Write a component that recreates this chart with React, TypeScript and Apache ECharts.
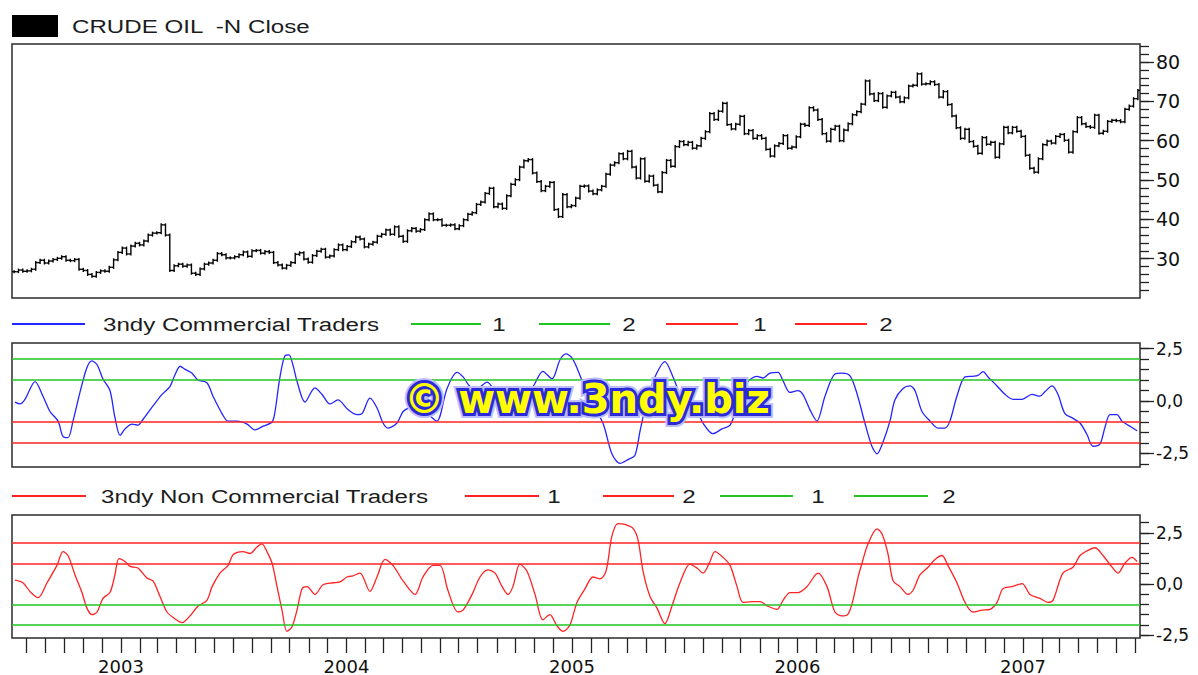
import React, { useEffect, useRef } from 'react';
import * as echarts from 'echarts';

// ---- Crude oil weekly closes (Fridays, from 2002-07-12) ----
const oil2002 = [26.7, 27.1, 26.8, 26.9, 27.3, 29.0, 29.6, 28.9, 29.4, 29.8, 30.1, 30.5, 29.6, 29.5, 29.8, 27.3, 27.0, 26.0, 25.5, 26.5, 26.9, 26.8, 27.8, 29.7, 31.6];
const oil2003 = [32.7, 31.2, 33.2, 33.9, 33.5, 34.5, 36.0, 36.5, 36.6, 38.6, 36.0, 27.0, 28.2, 28.6, 28.1, 28.4, 26.3, 26.0, 27.4, 28.6, 28.9, 29.6, 31.3, 31.0, 30.2, 30.2, 30.5, 31.0, 31.7, 30.6, 32.0, 32.1, 31.4, 31.8, 31.6, 29.0, 28.4, 27.6, 28.3, 29.0, 31.1, 31.5, 29.9, 29.1, 30.8, 31.9, 32.4, 30.4, 30.7, 32.3, 33.5, 32.3];
const oil2004 = [33.1, 34.3, 35.5, 35.0, 33.0, 33.7, 34.2, 35.7, 36.2, 37.3, 36.2, 38.1, 35.7, 34.4, 37.1, 37.7, 37.0, 37.4, 39.9, 41.4, 39.9, 39.9, 38.5, 38.5, 38.6, 37.6, 38.4, 39.9, 41.3, 41.7, 43.8, 44.4, 46.6, 47.9, 43.2, 43.9, 42.8, 46.0, 48.9, 50.1, 53.3, 54.9, 55.2, 51.8, 49.6, 47.3, 48.4, 49.4, 42.5, 40.7, 46.3, 43.2, 43.5];
const oil2005 = [45.4, 48.4, 48.5, 47.2, 46.5, 47.5, 48.4, 51.5, 53.8, 54.4, 56.7, 55.4, 57.3, 53.3, 50.5, 55.4, 49.7, 51.0, 48.7, 47.0, 51.9, 55.0, 53.5, 58.5, 59.8, 59.0, 59.6, 58.1, 58.7, 60.6, 62.3, 66.9, 65.4, 67.5, 69.5, 64.1, 63.0, 64.2, 66.2, 61.8, 62.6, 60.6, 61.3, 60.6, 57.8, 56.1, 58.7, 59.3, 61.3, 58.1, 58.4, 61.0];
const oil2006 = [64.2, 63.9, 68.4, 67.8, 65.4, 61.8, 59.9, 62.9, 63.7, 60.0, 62.7, 64.3, 66.6, 67.4, 69.3, 75.2, 71.9, 70.2, 72.0, 68.5, 71.4, 72.3, 71.1, 69.9, 70.9, 73.9, 74.1, 77.0, 74.4, 74.5, 75.0, 74.3, 71.1, 72.5, 69.2, 66.3, 63.3, 60.6, 62.9, 59.8, 58.6, 56.8, 60.8, 59.1, 59.6, 55.8, 59.2, 63.4, 62.0, 63.4, 62.4, 61.1];
const oil2007 = [56.3, 53.0, 52.0, 55.4, 59.0, 59.9, 59.4, 61.1, 61.6, 60.1, 57.1, 62.3, 65.9, 64.3, 63.6, 63.4, 66.5, 61.9, 62.4, 64.9, 65.2, 65.1, 64.8, 68.0, 68.8, 70.7, 72.8];
const oilClose = [...oil2002, ...oil2003, ...oil2004, ...oil2005, ...oil2006, ...oil2007];

// ---- 3ndy Commercial Traders index [decimal year, value] ----
const commercial: [number, number][] = [
  [2002.530, -0.05], [2002.552, -0.14], [2002.574, 0.08], [2002.619, 0.93], [2002.654, 0.23], [2002.685, -0.5], [2002.721, -0.96], [2002.743, -1.7], [2002.765, -1.75], [2002.787, -0.96],
  [2002.818, 0.41], [2002.849, 1.6], [2002.871, 1.92], [2002.894, 1.73], [2002.920, 1.05], [2002.951, 0.5], [2002.973, -0.78], [2002.996, -1.64], [2003.018, -1.33], [2003.049, -1.1],
  [2003.075, -1.15], [2003.098, -0.87], [2003.142, -0.23], [2003.182, 0.32], [2003.217, 0.69], [2003.239, 1.24], [2003.262, 1.66], [2003.284, 1.51], [2003.315, 1.33], [2003.341, 1.0],
  [2003.381, 0.87], [2003.408, 0.23], [2003.448, -0.6], [2003.475, -0.96], [2003.514, -0.96], [2003.559, -1.1], [2003.594, -1.38], [2003.630, -1.2], [2003.670, -1.0], [2003.683, -0.5],
  [2003.705, 1.15], [2003.727, 2.16], [2003.745, 2.2], [2003.763, 1.7], [2003.780, 0.96], [2003.816, -0.05], [2003.860, 0.63], [2003.891, 0.32], [2003.927, -0.14], [2003.962, 0.05],
  [2004.007, -0.41], [2004.047, -0.65], [2004.069, -0.6], [2004.104, 0.14], [2004.135, -0.32], [2004.162, -1.05], [2004.184, -1.29], [2004.224, -1.05], [2004.251, -0.5], [2004.282, -0.3],
  [2004.326, -0.2], [2004.370, -0.7], [2004.401, -0.96], [2004.446, 0.6], [2004.490, 1.37], [2004.517, 1.15], [2004.548, 0.69], [2004.579, 0.6], [2004.623, 0.9], [2004.667, 0.3],
  [2004.712, -0.3], [2004.756, 0.0], [2004.800, 0.5], [2004.827, 0.69], [2004.871, 1.42], [2004.911, 1.06], [2004.947, 1.97], [2004.973, 2.25], [2005.000, 2.06], [2005.027, 1.45],
  [2005.080, 0.05], [2005.137, -1.05], [2005.177, -2.52], [2005.213, -2.98], [2005.248, -2.8], [2005.279, -2.6], [2005.302, -1.42], [2005.333, 0.05], [2005.368, 1.15], [2005.412, 1.88],
  [2005.448, 1.15], [2005.492, 0.05], [2005.554, -0.5], [2005.581, -1.05], [2005.625, -1.56], [2005.665, -1.33], [2005.701, -1.15], [2005.732, -0.32], [2005.776, 0.87], [2005.820, 1.18],
  [2005.847, 1.1], [2005.878, 1.33], [2005.914, 1.37], [2005.936, 0.96], [2005.967, 0.41], [2006.002, 0.5], [2006.024, 0.32], [2006.055, -0.41], [2006.086, -0.96], [2006.122, 0.23],
  [2006.166, 1.29], [2006.197, 1.33], [2006.233, 1.2], [2006.264, 0.35], [2006.299, -1.05], [2006.330, -2.16], [2006.353, -2.52], [2006.379, -1.97], [2006.410, -0.96], [2006.432, 0.05],
  [2006.468, 0.6], [2006.499, 0.72], [2006.521, 0.5], [2006.552, -0.5], [2006.588, -0.96], [2006.623, -1.29], [2006.654, -1.29], [2006.676, -0.96], [2006.707, 0.23], [2006.743, 1.15],
  [2006.778, 1.18], [2006.800, 1.22], [2006.823, 1.4], [2006.845, 1.15], [2006.885, 0.72], [2006.920, 0.32], [2006.956, 0.08], [2006.996, 0.08], [2007.040, 0.32], [2007.075, 0.23],
  [2007.098, 0.45], [2007.129, 0.72], [2007.155, 0.32], [2007.186, -0.6], [2007.222, -0.83], [2007.253, -1.05], [2007.284, -1.6], [2007.310, -2.16], [2007.341, -2.06], [2007.364, -1.24],
  [2007.386, -0.65], [2007.417, -0.65], [2007.439, -0.96], [2007.466, -1.15], [2007.506, -1.42],
];

// ---- 3ndy Non Commercial Traders index [decimal year, value] ----
const nonCommercial: [number, number][] = [
  [2002.530, 0.19], [2002.565, 0.06], [2002.596, -0.36], [2002.632, -0.67], [2002.672, 0.06], [2002.716, 0.91], [2002.743, 1.58], [2002.765, 1.39], [2002.796, 0.44], [2002.827, -0.42],
  [2002.849, -1.18], [2002.871, -1.5], [2002.894, -1.37], [2002.920, -0.7], [2002.951, -0.42], [2002.973, 0.44], [2002.991, 1.24], [2003.018, 1.1], [2003.040, 0.86], [2003.075, 0.78],
  [2003.115, 0.29], [2003.142, 0.15], [2003.173, -0.61], [2003.204, -1.37], [2003.239, -1.7], [2003.271, -1.89], [2003.306, -1.56], [2003.341, -1.09], [2003.381, -0.8], [2003.404, -0.13],
  [2003.439, 0.53], [2003.475, 0.91], [2003.497, 1.43], [2003.541, 1.58], [2003.572, 1.49], [2003.603, 1.81], [2003.625, 1.96], [2003.647, 1.58], [2003.670, 1.01], [2003.692, -0.13],
  [2003.714, -1.28], [2003.736, -2.32], [2003.758, -2.1], [2003.780, -1.3], [2003.803, -0.23], [2003.825, -0.13], [2003.860, -0.51], [2003.896, -0.04], [2003.940, 0.06], [2003.971, 0.1],
  [2004.002, 0.34], [2004.029, 0.4], [2004.060, 0.53], [2004.104, -0.36], [2004.135, 0.34], [2004.171, 1.2], [2004.206, 0.91], [2004.251, 0.15], [2004.304, -0.51], [2004.339, 0.34],
  [2004.384, 0.91], [2004.415, 0.91], [2004.450, -0.32], [2004.494, -1.37], [2004.517, -1.28], [2004.557, -0.51], [2004.592, 0.34], [2004.627, 0.69], [2004.659, 0.53], [2004.690, -0.13],
  [2004.716, -0.51], [2004.738, -0.13], [2004.769, 0.97], [2004.800, 0.63], [2004.836, -0.51], [2004.871, -1.75], [2004.902, -1.5], [2004.933, -2.04], [2004.960, -2.32], [2004.991, -2.0],
  [2005.022, -0.9], [2005.058, -0.23], [2005.093, 0.34], [2005.124, 0.25], [2005.151, 0.63], [2005.177, 2.34], [2005.204, 2.95], [2005.235, 2.91], [2005.271, 2.72], [2005.293, 2.15],
  [2005.315, 0.63], [2005.346, -0.61], [2005.377, -1.18], [2005.412, -1.94], [2005.443, -1.09], [2005.479, 0.06], [2005.523, 0.97], [2005.554, 0.78], [2005.581, 0.53], [2005.612, 1.1],
  [2005.634, 1.58], [2005.670, 1.3], [2005.701, 0.91], [2005.732, -0.13], [2005.758, -0.9], [2005.798, -0.86], [2005.834, -0.86], [2005.869, -1.09], [2005.909, -1.24], [2005.936, -0.8],
  [2005.967, -0.42], [2006.002, -0.42], [2006.042, -0.13], [2006.091, 0.53], [2006.131, -0.13], [2006.166, -1.37], [2006.197, -1.56], [2006.224, -1.47], [2006.246, -0.8], [2006.268, 0.3],
  [2006.286, 1.01], [2006.313, 1.96], [2006.353, 2.69], [2006.375, 2.44], [2006.401, 1.49], [2006.424, 0.15], [2006.455, -0.13], [2006.490, -0.51], [2006.512, -0.32], [2006.543, 0.44],
  [2006.579, 0.82], [2006.610, 1.2], [2006.641, 1.39], [2006.667, 0.91], [2006.707, 0.06], [2006.743, -0.9], [2006.778, -1.37], [2006.818, -1.28], [2006.854, -1.24], [2006.885, -0.9],
  [2006.911, -0.23], [2006.951, -0.13], [2006.996, 0.02], [2007.031, -0.51], [2007.075, -0.7], [2007.111, -0.9], [2007.133, -0.8], [2007.177, 0.53], [2007.222, 0.82], [2007.253, 1.39],
  [2007.284, 1.62], [2007.319, 1.77], [2007.355, 1.39], [2007.395, 0.82], [2007.421, 0.53], [2007.452, 1.01], [2007.483, 1.3], [2007.506, 1.1],
];

// ---- levels and tick labels ----
const comGreenLevels = [1, 2];
const comRedLevels = [-1, -2];
const nonRedLevels = [1, 2];
const nonGreenLevels = [-1, -2];
const priceLabels = [30, 40, 50, 60, 70, 80];
const priceMinorTicks = [22, 24, 26, 28, 30, 32, 34, 36, 38, 40, 42, 44, 46, 48, 50, 52, 54, 56, 58, 60, 62, 64, 66, 68, 70, 72, 74, 76, 78, 80, 82, 84];
const oscLabels = [-2.5, 0, 2.5];
const midMinorTicks = [-3, -2.5, -2, -1.5, -1, -0.5, 0, 0.5, 1, 1.5, 2, 2.5];
const lowMinorTicks = [-2.5, -2, -1.5, -1, -0.5, 0, 0.5, 1, 1.5, 2, 2.5, 3];
const yearLabels = [2003, 2004, 2005, 2006, 2007];

const X_MIN = 2002.5166;
const X_MAX = 2007.519;

const GREEN = '#22c422';
const RED = '#ff2323';
const BLUE = '#2424ff';

function decYear(t: number): number {
  const y = new Date(t).getUTCFullYear();
  const a = Date.UTC(y, 0, 1);
  const b = Date.UTC(y + 1, 0, 1);
  return y + (t - a) / (b - a);
}

const weekYears = oilClose.map((_, i) => decYear(Date.UTC(2002, 6, 12) + i * 7 * 86400000));
const oilBars = oilClose.map((c, i) => [weekYears[i], i > 0 ? oilClose[i - 1] : c, c]);

const monthTicks: number[] = [];
for (let y = 2002; y <= 2007; y++) {
  for (let m = 0; m < 12; m++) {
    const v = decYear(Date.UTC(y, m, 1));
    if (v > X_MIN && v < X_MAX) monthTicks.push(v);
  }
}

const fmtOsc = (v: number) => v.toFixed(1).replace('.', ',');

function legendText(x: number, y: number, text: string, align: string = 'left') {
  return {
    type: 'text', x, y, scaleX: 1.27, z: 50,
    style: { x: 0, y: 0, text, fill: '#1c1c1c', fontSize: 19, fontFamily: '"Liberation Sans", Arial, sans-serif', align, verticalAlign: 'middle' },
  };
}
function legendLine(x1: number, x2: number, y: number, color: string) {
  return { type: 'line', z: 50, shape: { x1, y1: y, x2, y2: y }, style: { stroke: color, lineWidth: 2 } };
}

export default function App() {
  const ref = useRef<HTMLDivElement>(null);

  useEffect(() => {
    if (!ref.current) return;
    const chart = echarts.init(ref.current, undefined, { renderer: 'svg' });

    const gridBase = { left: 12, width: 1128, show: true, borderColor: '#2b2b2b', borderWidth: 1.5, backgroundColor: '#fff', containLabel: false };
    const xBase = { type: 'value', min: X_MIN, max: X_MAX, splitLine: { show: false }, axisLine: { show: false, onZero: false }, axisTick: { show: false }, axisLabel: { show: false } };
    const yMajor = (gi: number, min: number, max: number, labels: number[], fs: number, fmt?: (v: number) => string) => ({
      type: 'value', gridIndex: gi, position: 'right', min, max,
      splitLine: { show: false }, axisLine: { show: false, onZero: false },
      axisTick: { show: true, customValues: labels, length: 14, lineStyle: { color: '#222', width: 1.3 } },
      axisLabel: { show: true, customValues: labels, margin: 16, fontSize: fs, fontFamily: '"DejaVu Sans", sans-serif', color: '#111', formatter: fmt },
    });
    const yMinor = (gi: number, min: number, max: number, ticks: number[]) => ({
      type: 'value', gridIndex: gi, position: 'right', min, max,
      splitLine: { show: false }, axisLine: { show: false, onZero: false },
      axisTick: { show: true, customValues: ticks, length: 9, lineStyle: { color: '#222', width: 1.3 } },
      axisLabel: { show: false },
    });

    const mk = (vals: number[], color: string) => vals.map((v) => ({ yAxis: v, lineStyle: { color, width: 1.6, type: 'solid' } }));

    const wmStyle = { text: '\u00a9 www.3ndy.biz', fontSize: 40, fontWeight: 'bold', fontFamily: '"DejaVu Sans", sans-serif', align: 'center', verticalAlign: 'middle', x: 0, y: 0 };

    const option: any = {
      animation: false,
      backgroundColor: '#fff',
      grid: [
        { ...gridBase, top: 44, height: 254 },
        { ...gridBase, top: 343, height: 124 },
        { ...gridBase, top: 515, height: 125 },
      ],
      xAxis: [
        { ...xBase, gridIndex: 0 },
        { ...xBase, gridIndex: 1 },
        {
          ...xBase, gridIndex: 2, position: 'bottom',
          axisTick: { show: true, customValues: monthTicks, length: 15, lineStyle: { color: '#222', width: 1.3 } },
          axisLabel: { show: true, customValues: yearLabels, margin: 19, fontSize: 18, fontFamily: '"DejaVu Sans", sans-serif', color: '#111', formatter: (v: number) => String(Math.round(v)) },
        },
      ],
      yAxis: [
        yMajor(0, 20, 84.6, priceLabels, 19),
        yMinor(0, 20, 84.6, priceMinorTicks),
        yMajor(1, -3.15, 2.77, oscLabels, 17, fmtOsc),
        yMinor(1, -3.15, 2.77, midMinorTicks),
        yMajor(2, -2.64, 3.37, oscLabels, 17, fmtOsc),
        yMinor(2, -2.64, 3.37, lowMinorTicks),
      ],
      series: [
        {
          type: 'custom', name: 'CRUDE OIL -N Close', xAxisIndex: 0, yAxisIndex: 0, clip: true,
          data: oilBars,
          renderItem: (params: any, api: any) => {
            const x = api.value(0);
            const o = api.value(1);
            const c = api.value(2);
            const po = api.coord([x, o]);
            const pc = api.coord([x, c]);
            const top = Math.min(po[1], pc[1]) - 1.5;
            const bot = Math.max(po[1], pc[1]) + 1.5;
            const st = { stroke: '#000', lineWidth: 1.4 };
            return {
              type: 'group',
              children: [
                { type: 'line', shape: { x1: po[0], y1: top, x2: po[0], y2: bot }, style: st },
                { type: 'line', shape: { x1: po[0] - 2.2, y1: po[1], x2: po[0], y2: po[1] }, style: st },
                { type: 'line', shape: { x1: pc[0], y1: pc[1], x2: pc[0] + 2.2, y2: pc[1] }, style: st },
              ],
            };
          },
        },
        {
          type: 'line', name: '3ndy Commercial Traders', xAxisIndex: 1, yAxisIndex: 2,
          data: commercial, smooth: 0.3, symbol: 'none', clip: true,
          lineStyle: { color: BLUE, width: 1.3 }, z: 3,
          markLine: { silent: true, symbol: ['none', 'none'], label: { show: false }, animation: false, data: [...mk(comGreenLevels, GREEN), ...mk(comRedLevels, RED)] },
        },
        {
          type: 'line', name: '3ndy Non Commercial Traders', xAxisIndex: 2, yAxisIndex: 4,
          data: nonCommercial, smooth: 0.3, symbol: 'none', clip: true,
          lineStyle: { color: RED, width: 1.3 }, z: 3,
          markLine: { silent: true, symbol: ['none', 'none'], label: { show: false }, animation: false, data: [...mk(nonRedLevels, RED), ...mk(nonGreenLevels, GREEN)] },
        },
      ],
      graphic: [
        { type: 'rect', z: 50, shape: { x: 12, y: 15, width: 46, height: 22 }, style: { fill: '#000' } },
        legendText(72, 26, 'CRUDE OIL  -N Close'),

        legendLine(12, 85, 324, BLUE),
        legendText(103, 324, '3ndy Commercial Traders'),
        legendLine(411, 481, 324, GREEN),
        legendText(499, 324, '1', 'center'),
        legendLine(539, 610, 324, GREEN),
        legendText(629, 324, '2', 'center'),
        legendLine(666, 738, 324, RED),
        legendText(760, 324, '1', 'center'),
        legendLine(795, 867, 324, RED),
        legendText(886, 324, '2', 'center'),

        legendLine(12, 86, 496, RED),
        legendText(101, 496, '3ndy Non Commercial Traders'),
        legendLine(465, 539, 496, RED),
        legendText(554, 496, '1', 'center'),
        legendLine(603, 674, 496, RED),
        legendText(689, 496, '2', 'center'),
        legendLine(720, 793, 496, GREEN),
        legendText(818, 496, '1', 'center'),
        legendLine(854, 928, 496, GREEN),
        legendText(949, 496, '2', 'center'),

        { type: 'text', x: 587, y: 399, z: 100, style: { ...wmStyle, fill: '#bcbcff', stroke: '#bcbcff', lineWidth: 10 } },
        { type: 'text', x: 587, y: 399, z: 101, style: { ...wmStyle, fill: '#2a2ad6', stroke: '#2a2ad6', lineWidth: 6 } },
        { type: 'text', x: 587, y: 399, z: 102, style: { ...wmStyle, fill: '#ffff00' } },
      ],
    };

    chart.setOption(option);
    return () => chart.dispose();
  }, []);

  return <div ref={ref} style={{ position: 'absolute', left: 0, top: 0, width: 1198, height: 675, background: '#fff' }} />;
}
